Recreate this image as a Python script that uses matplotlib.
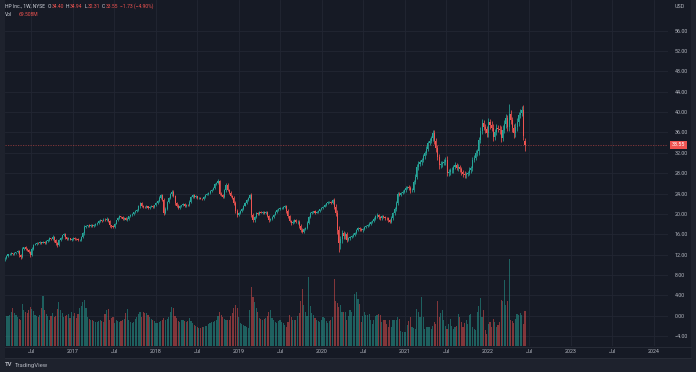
import datetime as dt
import numpy as np
import matplotlib
matplotlib.use('Agg')
import matplotlib.pyplot as plt
import matplotlib.dates as mdates
import matplotlib.transforms as mtransforms
from matplotlib.patches import Rectangle
from matplotlib.lines import Line2D

plt.rcParams['font.family'] = ['Roboto', 'DejaVu Sans']

BG = '#161A25'
PANEL = '#1E222D'
GRID = '#222633'
TXT = '#B2B5BE'
UP = '#26A69A'
DN = '#EF5350'

# HP Inc. weekly bars, week starting 2016-03-07 up to 2022-06-13
first_week = dt.date(2016, 3, 7)
first_open = 11.0
last_open = 34.40

closes = [
    11.3, 11.8, 12.1, 12.2, 12.3, 12.1, 12.4, 12.5, 12.7, 11.9,
    11.6, 13.2, 13.4, 13.1, 12.9, 12.5, 11.9, 13.2, 13.9, 14.1,
    14.3, 14.2, 14.4, 14.3, 14.5, 14.3, 14.6, 14.9, 15.2, 15.0,
    15.5, 14.8, 14.2, 13.9, 14.8, 15.2, 15.8, 16.0, 15.4, 15.1,
    15.2, 14.9, 15.1, 15.3, 15.1, 15.0, 14.8, 14.9, 15.5, 16.2,
    17.5, 17.7, 17.8, 17.6, 17.9, 17.7, 17.8, 18.0, 18.3, 18.6,
    18.8, 18.7, 18.9, 18.8, 19.0, 18.6, 17.8, 17.6, 17.5, 18.1,
    18.8, 19.2, 19.5, 19.3, 19.0, 19.1, 18.9, 19.0, 19.5, 19.7,
    20.0, 20.3, 20.6, 20.8, 21.5, 22.1, 21.6, 21.4, 21.3, 21.5,
    21.2, 21.4, 21.6, 21.4, 21.7, 22.1, 22.5, 23.2, 23.7, 22.7,
    20.2, 21.0, 22.4, 23.1, 23.9, 24.4, 23.6, 22.1, 21.6, 21.1,
    21.5, 21.7, 21.9, 21.6, 21.8, 21.7, 22.4, 23.3, 23.7, 23.4,
    23.5, 23.1, 23.2, 23.0, 22.9, 23.4, 23.8, 24.0, 24.2, 24.5,
    24.7, 25.1, 25.8, 26.0, 26.4, 24.0, 23.8, 23.4, 24.6, 25.7,
    24.7, 24.2, 23.6, 23.2, 22.1, 20.6, 19.8, 20.2, 20.5, 21.0,
    21.6, 22.1, 22.7, 23.2, 23.7, 19.8, 18.8, 19.4, 20.1, 19.9,
    20.4, 20.2, 20.4, 20.1, 20.3, 19.6, 18.8, 19.0, 19.4, 19.8,
    20.3, 20.8, 20.9, 21.1, 21.2, 21.4, 21.5, 20.6, 19.5, 18.7,
    18.2, 18.5, 18.8, 18.4, 18.5, 17.6, 16.9, 16.5, 17.0, 17.3,
    18.2, 19.3, 20.1, 20.3, 20.5, 20.2, 20.4, 20.6, 20.9, 21.1,
    21.4, 21.8, 22.1, 22.3, 22.4, 22.2, 22.7, 21.4, 20.1, 16.8,
    14.2, 15.0, 16.2, 15.6, 16.0, 14.9, 15.2, 15.4, 15.6, 15.9,
    16.2, 16.9, 17.2, 17.0, 16.8, 17.1, 17.5, 17.6, 17.8, 18.1,
    18.5, 18.6, 19.0, 19.5, 19.8, 19.3, 19.1, 19.5, 19.4, 19.2,
    19.1, 18.8, 18.5, 19.2, 20.1, 21.0, 22.1, 24.0, 23.8, 24.2,
    24.4, 24.7, 25.1, 25.3, 25.0, 24.6, 24.7, 26.2, 27.3, 29.2,
    29.9, 30.2, 30.6, 31.3, 31.9, 32.8, 33.9, 34.4, 34.9, 35.8,
    34.3, 32.9, 31.2, 29.6, 29.8, 30.0, 30.2, 30.6, 28.0, 28.3,
    28.6, 28.6, 29.2, 29.6, 29.1, 29.3, 28.8, 28.3, 27.9, 27.6,
    27.9, 28.0, 28.6, 29.0, 30.6, 31.0, 31.9, 32.3, 34.5, 36.2,
    37.8, 37.1, 36.6, 35.8, 38.1, 37.5, 36.9, 35.2, 36.1, 36.9,
    36.7, 36.5, 35.0, 36.5, 37.6, 38.8, 37.0, 39.7, 38.4, 36.9,
    35.8, 37.1, 38.0, 39.4, 39.9, 40.4, 35.28, 33.55,
]

# upper / lower shadow beyond the body, tenths of a dollar
wick_up = [
    2, 2, 1, 2, 2, 1, 2, 1, 2, 3, 2, 2, 1, 2, 2, 3, 2, 2, 1, 2,
    1, 2, 2, 1, 2, 1, 2, 2, 2, 1, 3, 2, 2, 3, 2, 2, 1, 2, 2, 1,
    2, 1, 2, 2, 1, 2, 2, 1, 2, 2, 3, 2, 1, 2, 2, 1, 2, 2, 1, 2,
    2, 1, 2, 2, 3, 2, 2, 1, 2, 2, 1, 2, 2, 1, 2, 2, 2, 3, 1, 2,
    2, 1, 2, 2, 3, 2, 2, 1, 2, 2, 1, 2, 2, 2, 1, 2, 2, 3, 3, 3,
    4, 3, 2, 2, 3, 2, 3, 2, 2, 3, 2, 1, 2, 2, 1, 2, 3, 2, 2, 2,
    2, 1, 2, 2, 1, 2, 2, 2, 1, 2, 2, 2, 3, 2, 4, 3, 3, 2, 3, 3,
    3, 2, 3, 2, 3, 4, 3, 2, 2, 2, 1, 2, 2, 2, 3, 4, 3, 2, 2, 2,
    1, 2, 2, 1, 2, 3, 2, 2, 1, 2, 2, 1, 2, 2, 1, 2, 2, 3, 4, 3,
    2, 3, 2, 2, 3, 3, 4, 3, 2, 2, 4, 3, 2, 2, 1, 2, 2, 2, 1, 2,
    2, 2, 1, 2, 2, 2, 3, 4, 5, 6, 8, 7, 6, 5, 4, 4, 3, 3, 2, 3,
    3, 2, 3, 2, 3, 2, 2, 2, 2, 3, 2, 2, 3, 2, 3, 2, 2, 3, 2, 2,
    2, 3, 2, 3, 3, 4, 5, 4, 3, 2, 3, 2, 3, 2, 3, 4, 3, 4, 5, 6,
    5, 4, 4, 5, 4, 5, 4, 5, 4, 6, 7, 6, 7, 6, 5, 4, 5, 6, 7, 5,
    5, 6, 4, 5, 4, 5, 4, 5, 4, 5, 4, 5, 6, 5, 6, 5, 6, 5, 7, 8,
    8, 6, 5, 7, 8, 6, 7, 8, 6, 7, 6, 7, 8, 9, 8, 9, 7, 19, 8, 7,
    8, 7, 8, 6, 7, 8, 9, 5,
]
wick_dn = [
    3, 2, 2, 1, 2, 2, 1, 2, 2, 3, 4, 2, 2, 1, 2, 2, 4, 2, 2, 1,
    2, 1, 2, 2, 1, 2, 2, 1, 2, 2, 2, 3, 3, 4, 2, 2, 2, 1, 3, 2,
    2, 1, 2, 2, 2, 1, 2, 2, 3, 2, 3, 2, 2, 1, 2, 2, 2, 1, 2, 2,
    2, 2, 1, 2, 2, 2, 3, 3, 2, 2, 1, 2, 2, 1, 2, 2, 1, 2, 2, 1,
    2, 2, 1, 2, 2, 3, 2, 2, 1, 2, 2, 2, 1, 2, 2, 1, 2, 2, 3, 2,
    5, 3, 2, 2, 2, 3, 3, 4, 3, 2, 2, 2, 1, 2, 2, 1, 2, 2, 2, 3,
    2, 2, 2, 1, 2, 2, 2, 1, 2, 2, 2, 1, 2, 2, 2, 3, 3, 3, 2, 2,
    2, 3, 2, 3, 4, 5, 4, 3, 2, 2, 2, 1, 2, 2, 2, 5, 4, 3, 2, 2,
    2, 1, 2, 2, 2, 3, 4, 2, 2, 2, 1, 2, 2, 2, 1, 2, 3, 4, 3, 2,
    3, 2, 3, 2, 3, 3, 5, 3, 2, 2, 2, 2, 1, 2, 2, 2, 1, 2, 2, 2,
    2, 1, 2, 2, 2, 3, 3, 4, 5, 8, 17, 10, 7, 6, 5, 4, 3, 3, 2, 2,
    3, 2, 3, 3, 2, 3, 2, 2, 2, 2, 3, 2, 2, 2, 3, 3, 2, 2, 3, 3,
    2, 3, 3, 2, 3, 3, 4, 4, 3, 3, 2, 3, 3, 3, 3, 4, 3, 4, 4, 5,
    5, 4, 5, 4, 5, 4, 5, 4, 5, 5, 6, 7, 6, 8, 6, 5, 4, 5, 6, 5,
    6, 5, 6, 4, 5, 6, 5, 6, 7, 6, 5, 5, 4, 5, 6, 5, 5, 6, 7, 6,
    6, 7, 8, 7, 6, 8, 7, 8, 7, 6, 7, 8, 9, 7, 6, 8, 7, 8, 7, 8,
    9, 7, 8, 7, 6, 7, 8, 12,
]

# weekly volume, millions
volumes = [
    68, 60, 60, 62, 68, 76, 66, 62, 58, 54,
    52, 84, 72, 68, 66, 72, 78, 74, 70, 62,
    60, 58, 62, 76, 100, 72, 64, 60, 52, 60,
    66, 58, 60, 74, 88, 72, 66, 58, 60, 62,
    64, 56, 68, 60, 66, 56, 64, 76, 80, 88,
    92, 76, 58, 54, 52, 52, 50, 48, 48, 50,
    52, 50, 48, 64, 72, 74, 52, 56, 58, 46,
    52, 50, 48, 50, 52, 54, 66, 74, 52, 48,
    46, 48, 54, 58, 64, 68, 58, 68, 66, 66,
    62, 58, 54, 52, 50, 46, 46, 48, 50, 52,
    56, 52, 54, 58, 68, 78, 76, 60, 56, 50,
    48, 52, 52, 50, 48, 50, 56, 50, 46, 42,
    40, 38, 36, 36, 38, 38, 40, 40, 44, 46,
    48, 48, 50, 52, 60, 68, 62, 58, 54, 52,
    52, 52, 60, 66, 76, 82, 76, 58, 46, 44,
    42, 40, 38, 36, 72, 118, 98, 88, 76, 68,
    56, 54, 52, 54, 56, 60, 68, 72, 56, 52,
    48, 46, 50, 52, 48, 46, 42, 38, 48, 62,
    58, 52, 52, 52, 60, 66, 90, 114, 82, 68,
    60, 138, 80, 66, 62, 56, 52, 50, 48, 52,
    58, 56, 50, 46, 50, 52, 58, 134, 90, 86,
    78, 82, 68, 68, 68, 52, 60, 72, 68, 60,
    104, 108, 94, 84, 48, 60, 68, 62, 62, 64,
    52, 44, 52, 60, 62, 64, 62, 48, 52, 52,
    44, 38, 52, 38, 52, 52, 52, 58, 54, 30,
    28, 28, 28, 42, 50, 58, 38, 36, 34, 74,
    68, 58, 98, 58, 34, 38, 38, 38, 34, 40,
    48, 44, 90, 58, 66, 72, 52, 40, 34, 44,
    54, 40, 34, 38, 40, 64, 58, 48, 38, 46,
    52, 44, 62, 64, 38, 34, 32, 68, 80, 96,
    58, 72, 32, 24, 44, 48, 38, 54, 48, 38,
    42, 48, 92, 90, 132, 82, 90, 174, 52, 50,
    46, 54, 64, 62, 66, 62, 44, 69.508,
]

price_ticks = list(range(-4, 57, 4))
last_price = 33.55

closes = np.array(closes)
opens = np.r_[first_open, closes[:-1]]   # weekly open taken as prior close
opens[-1] = last_open
highs = np.maximum(opens, closes) + np.array(wick_up) / 10.0
lows = np.minimum(opens, closes) - np.array(wick_dn) / 10.0
dates = [first_week + dt.timedelta(weeks=i) for i in range(len(closes))]
x = mdates.date2num(dates)
up = closes >= opens

W, H = 696, 372
fig = plt.figure(figsize=(W / 100, H / 100), dpi=100, facecolor=BG)

# pane geometry in pixels
L, R, B, T = 5, 668, 346, 0
rect = [L / W, 1 - B / H, (R - L) / W, (B - T) / H]

# date scale: 83 px per year, 2017-01-01 at x=73 px
px_day = 83.0 / 365.25
ref = mdates.date2num(dt.date(2017, 1, 1))
x0 = ref - (73 - L) / px_day
x1 = x0 + (R - L) / px_day

ax_v = fig.add_axes(rect)
ax_v.set_facecolor(BG)
ax = fig.add_axes(rect, sharex=ax_v)
ax.patch.set_visible(False)

ax.set_xlim(x0, x1)
ax.set_ylim(-5.95, 62.02)
ax_v.set_ylim(0, 692)

# grid (drawn in the volume pane so it stays behind everything)
blend = mtransforms.blended_transform_factory(ax_v.transAxes, ax.transData)
for p in price_ticks:
    ax_v.add_line(Line2D([0, 1], [p, p], transform=blend, color=GRID, lw=0.6, zorder=0))

xt, xl = [], []
for yr in range(2016, 2025):
    for mo in (1, 7):
        d = mdates.date2num(dt.date(yr, mo, 1))
        if x0 < d < x1:
            xt.append(d)
            xl.append('Jul' if mo == 7 else str(yr))
for d in xt:
    ax_v.axvline(d, color=GRID, lw=0.6, zorder=0)

# volume
vcol = [UP if u else DN for u in up]
ax_v.bar(x, volumes, width=5.0, color=vcol, alpha=0.5, linewidth=0, zorder=2)

# candles
ccol = np.where(up, UP, DN)
ax.vlines(x, lows, highs, colors=ccol, lw=0.55, zorder=3)
body_lo = np.minimum(opens, closes)
body_h = np.maximum(np.abs(closes - opens), 0.08)
ax.bar(x, body_h, bottom=body_lo, width=4.6, color=ccol, linewidth=0, zorder=4)

# last price line and label
ax.axhline(last_price, color=DN, lw=0.6, ls=(0, (1.5, 1.5)), alpha=0.55, zorder=2)
lab_t = mtransforms.blended_transform_factory(ax.transAxes, ax.transData)
ax.text(1 + 3.5 / (R - L), last_price, '33.55', transform=lab_t, ha='left', va='center',
        fontsize=3.9, color='white', clip_on=False,
        bbox=dict(boxstyle='square,pad=0.35', fc=DN, ec='none'))

# axes styling
for a in (ax, ax_v):
    for s in a.spines.values():
        s.set_visible(False)
ax_v.set_yticks([])
ax_v.tick_params(axis='x', length=0, labelbottom=False)
ax.yaxis.tick_right()
ax.set_yticks(price_ticks)
ax.set_yticklabels(['\u2212%.2f' % -p if p < 0 else '%.2f' % p for p in price_ticks])
ax.tick_params(axis='y', length=0, pad=4.6, labelsize=3.9, labelcolor=TXT)
ax.set_xticks(xt)
ax.set_xticklabels(xl)
ax.tick_params(axis='x', length=0, pad=2.0, labelsize=3.9, labelcolor=TXT)

# frame pieces
fig.add_artist(Rectangle((0, 0), 1, 14 / H, transform=fig.transFigure, fc=PANEL, ec='none'))
fig.add_artist(Rectangle((0, 0), L / W, 1, transform=fig.transFigure, fc=PANEL, ec='none'))
fig.add_artist(Rectangle((691 / W, 0), 5 / W, 1, transform=fig.transFigure, fc=PANEL, ec='none'))
fig.add_artist(Line2D([L / W, 691 / W], [1 - 346.5 / H] * 2, transform=fig.transFigure,
                      color='#2A2E39', lw=0.6))
fig.add_artist(Line2D([L / W, 691 / W], [1 - 358 / H] * 2, transform=fig.transFigure,
                      color='#2A2E39', lw=0.6))


def ftext(px, py, s, color, size=3.9, weight='normal'):
    return fig.text(px / W, 1 - py / H, s, color=color, fontsize=size, ha='left',
                    va='center', fontweight=weight)


ftext(675, 6, 'USD', TXT)

# legend, laid out piece by piece so nothing collides
LG = '#D1D4DC'
renderer = fig.canvas.get_renderer()
row1 = [('HP Inc., 1W, NYSE', LG, 2.5), ('O', LG, 0.4), ('34.40', DN, 2.2),
        ('H', LG, 0.4), ('34.94', DN, 2.2), ('L', LG, 0.4), ('32.31', DN, 2.2),
        ('C', LG, 0.4), ('33.55', DN, 2.2), ('\u22121.73 (\u22124.90%)', DN, 0)]
cur = 5
for s, c, gap in row1:
    t = ftext(cur, 6, s, c, size=3.6)
    cur = t.get_window_extent(renderer).x1 + gap
t = ftext(5, 14, 'Vol', LG, size=3.6)
ftext(t.get_window_extent(renderer).x1 + 6, 14, '69.508M', DN, size=3.6)

# watermark logo
ftext(4.5, 365, 'TV', '#B2B5BE', size=4.2, weight='bold')
ftext(15, 365, 'TradingView', '#B2B5BE', size=4.3)

fig.savefig('out.png', dpi=100, facecolor=BG)
